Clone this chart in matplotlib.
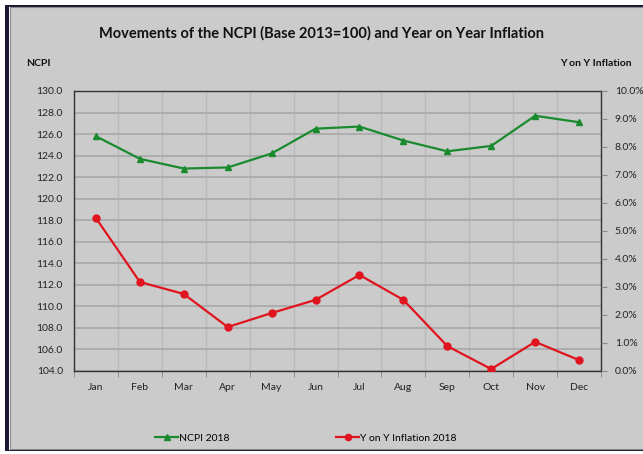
import matplotlib.pyplot as plt
from matplotlib.patches import Rectangle
from matplotlib.lines import Line2D
from matplotlib.ticker import FuncFormatter

plt.rcParams['font.family'] = ['Lato', 'DejaVu Sans']

months = ['Jan', 'Feb', 'Mar', 'Apr', 'May', 'Jun',
          'Jul', 'Aug', 'Sep', 'Oct', 'Nov', 'Dec']
ncpi_2018 = [125.8, 123.7, 122.8, 122.9, 124.2, 126.5,
             126.7, 125.4, 124.4, 124.9, 127.7, 127.1]
yoy_2018 = [5.46, 3.18, 2.75, 1.57, 2.07, 2.54,
            3.43, 2.54, 0.89, 0.07, 1.04, 0.39]

bg = '#cbcbcb'
W, H = 643, 454
fig = plt.figure(figsize=(W / 100, H / 100), dpi=100)
fig.patch.set_facecolor(bg)

# outer frame like the screenshot
fig.add_artist(Rectangle((0, 0), 1, 1, transform=fig.transFigure,
                         facecolor='white', edgecolor='none', zorder=-3))
fig.add_artist(Rectangle((5 / W, 3 / H), 1, 1 - 8 / H, transform=fig.transFigure,
                         facecolor='#1c1a33', edgecolor='none', zorder=-2))
fig.add_artist(Rectangle((9 / W, 4 / H), 1, 1 - 11 / H, transform=fig.transFigure,
                         facecolor='white', edgecolor='none', zorder=-2))
fig.add_artist(Rectangle((10 / W, 5 / H), 1, 1 - 12 / H, transform=fig.transFigure,
                         facecolor=bg, edgecolor='#8a8a8a', linewidth=0.8, zorder=-1))

ax = fig.add_axes([74 / W, 1 - 371 / H, 527 / W, 280 / H])
ax.set_facecolor(bg)
x = range(len(months))

ax.plot(x, ncpi_2018, color='#1a8a2e', marker='^', markersize=4.5,
        linewidth=1.6, label='NCPI 2018', zorder=4)
ax.set_ylim(104, 130)
ax.set_yticks([104 + 2 * i for i in range(14)])
ax.yaxis.set_major_formatter(FuncFormatter(lambda v, p: f'{v:.1f}'))
ax.set_xlim(-0.5, 11.5)
ax.set_xticks(list(x))
ax.set_xticklabels(months)
ax.set_xticks([i - 0.5 for i in range(13)], minor=True)
ax.grid(axis='y', which='major', color='#a8a8a8', linewidth=1.2)
ax.grid(axis='x', which='minor', color='#bababa', linewidth=1.0)
ax.tick_params(axis='x', which='major', length=0, pad=9, labelsize=7.5, colors='#222222')
ax.tick_params(axis='x', which='minor', length=4, color='#888888')
ax.tick_params(axis='y', length=0, pad=8, labelsize=7.5, colors='#222222')
for s in ax.spines.values():
    s.set_color('#333333')
    s.set_linewidth(1.0)
ax.set_axisbelow(True)

ax2 = ax.twinx()
ax2.plot(x, yoy_2018, color='#e0141e', marker='o', markersize=5,
         linewidth=1.6, label='Y on Y Inflation 2018', zorder=4)
ax2.set_ylim(0, 10)
ax2.set_yticks(range(11))
ax2.yaxis.set_major_formatter(FuncFormatter(lambda v, p: f'{v:.1f}%'))
ax2.tick_params(axis='y', length=4, color='#888888', pad=6, labelsize=7.5, labelcolor='#222222')
for s in ax2.spines.values():
    s.set_visible(False)

fig.text(0.5, 1 - 33 / H, 'Movements of the NCPI (Base 2013=100) and Year on Year Inflation',
         ha='center', va='center', fontsize=10.5, fontweight='bold', color='#111111')
fig.text(38 / W, 1 - 63 / H, 'NCPI', ha='center', va='center',
         fontsize=7.5, fontweight='bold', color='#111111')
fig.text(596 / W, 1 - 63 / H, 'Y on Y Inflation', ha='center', va='center',
         fontsize=7.5, fontweight='bold', color='#111111')

handles = [Line2D([], [], color='#1a8a2e', marker='^', markersize=4, linewidth=1.6),
           Line2D([], [], color='#e0141e', marker='o', markersize=4.5, linewidth=1.6)]
fig.legend(handles, ['NCPI 2018', 'Y on Y Inflation 2018'], loc='center',
           bbox_to_anchor=(306 / W, 1 - 438 / H), ncol=2, frameon=False,
           fontsize=7.5, columnspacing=10.2, handlelength=2.2, handletextpad=0.1)

fig.savefig('out.png', dpi=100, facecolor=fig.get_facecolor())
